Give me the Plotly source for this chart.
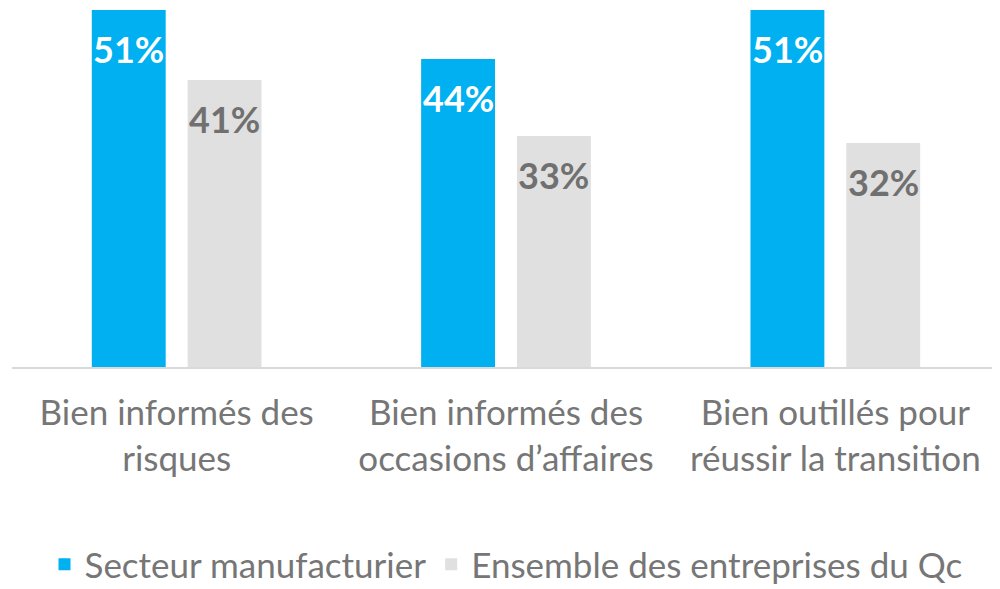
import plotly.graph_objects as go

categories = ['Bien informés des<br>risques',
              'Bien informés des<br>occasions d’affaires',
              'Bien outillés pour<br>réussir la transition']
series_names = ['Secteur manufacturier', 'Ensemble des entreprises du Qc']
manufacturier = [51, 44, 51]
ensemble_qc = [41, 33, 32]

colors = ['#00B0F0', '#E0E0E0']
label_colors = ['#FFFFFF', '#707070']
FONT = 'Lato'

fig = go.Figure()
for name, vals, color in zip(series_names, [manufacturier, ensemble_qc], colors):
    fig.add_trace(go.Bar(x=categories, y=vals, name=name, marker_color=color,
                         marker_line_width=0, hoverinfo='skip'))

# value labels sit inside the bars, a bit below the top
offsets = [-0.1455, 0.1455]
for vals, off, lc in zip([manufacturier, ensemble_qc], offsets, label_colors):
    for i, v in enumerate(vals):
        fig.add_annotation(x=i + off, y=v, xref='x', yref='y', text=f'{v}%',
                           showarrow=False, yanchor='middle', yshift=-39,
                           font=dict(family=FONT, size=36, color=lc, weight='bold'))

# page body adds 8px, so the figure is sized to fit the window
fig.update_layout(
    width=992, height=581,
    margin=dict(l=4, r=0, t=2, b=222),
    plot_bgcolor='white', paper_bgcolor='white',
    barmode='group', bargap=0.418, bargroupgap=0.229,
    font=dict(family=FONT, color='#767676'),
    showlegend=True,
    legend=dict(orientation='h', x=0.5, xanchor='center', yref='container',
                y=0.042, yanchor='middle', font=dict(size=35, color='#767676'),
                itemclick=False),
)
fig.update_xaxes(showline=True, linecolor='#D9D9D9', linewidth=2, ticks='',
                 automargin=False, ticklabelstandoff=14,
                 tickfont=dict(size=35, color='#767676'))
fig.update_yaxes(range=[0, 51], visible=False, showgrid=False, automargin=False)

fig.write_html('out.html')
